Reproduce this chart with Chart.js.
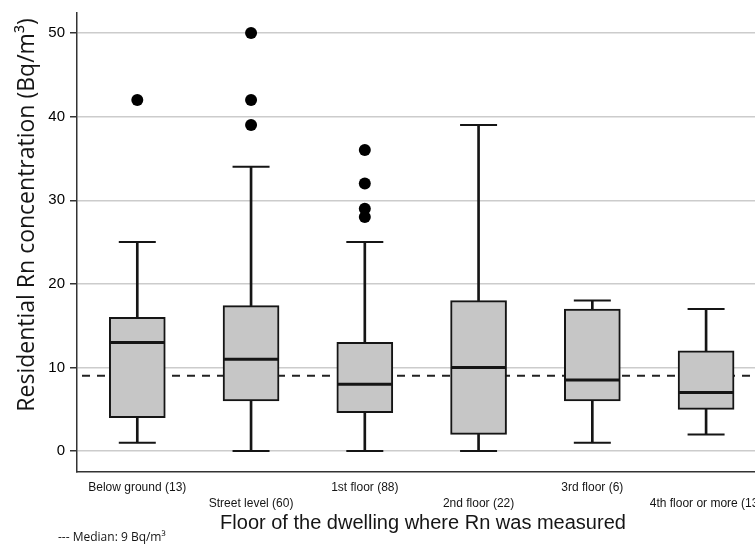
<!DOCTYPE html>
<html>
<head>
<meta charset="utf-8">
<title>Residential Rn concentration by floor</title>
<script src="https://cdn.jsdelivr.net/npm/chart.js@4/dist/chart.umd.min.js"></script>
<style>
  html, body { margin: 0; padding: 0; background: #fff; }
  #wrap { width: 755px; height: 552px; }
</style>
</head>
<body>
<div id="wrap"><canvas id="rnChart" width="755" height="552"></canvas></div>
<script>
// Box plot values (Bq/m3)
const floors = ['Below ground (13)', 'Street level (60)', '1st floor (88)', '2nd floor (22)', '3rd floor (6)', '4th floor or more (13)'];
const whiskerLow = [1, 0, 0, 0, 1, 2];
const q1 = [4, 6, 4.6, 2, 6, 5];
const medians = [13, 11, 8, 10, 8.5, 7];
const q3 = [16, 17.4, 13, 18, 17, 12];
const whiskerHigh = [25, 34, 25, 39, 18, 17];
const outliers = [[42], [50, 42, 39], [36, 32, 29, 28], [], [], []];
const overallMedian = 9;
const yTicks = [0, 10, 20, 30, 40, 50];

const ink = '#151515';
const sans = "'Liberation Sans', Arial, Helvetica, sans-serif";
const open = "'Open Sans', 'Noto Sans', sans-serif";

// dashed overall median line, drawn behind the boxes
const medianLine = {
    id: 'medianLine',
    beforeDatasetsDraw(chart) {
        const {ctx, chartArea, scales} = chart;
        const y = scales.y.getPixelForValue(overallMedian);
        ctx.save();
        ctx.strokeStyle = '#222';
        ctx.lineWidth = 2;
        ctx.setLineDash([8, 7]);
        ctx.beginPath();
        ctx.moveTo(chartArea.left + 5, y);
        ctx.lineTo(chartArea.right, y);
        ctx.stroke();
        ctx.restore();
    }
};

// staggered category labels, axis titles and footnote
const labels = {
    id: 'labels',
    afterDraw(chart) {
        const {ctx, chartArea, scales} = chart;
        ctx.save();
        ctx.fillStyle = ink;
        ctx.textAlign = 'center';
        ctx.textBaseline = 'middle';
        ctx.font = '12px ' + sans;
        floors.forEach((label, i) => {
            const x = scales.x.getPixelForValue(i);
            ctx.fillText(label, x, chartArea.bottom + (i % 2 ? 32 : 16));
        });

        ctx.font = '20px ' + sans;
        ctx.fillText('Floor of the dwelling where Rn was measured', 423, chartArea.bottom + 51);

        ctx.font = '12px ' + open;
        ctx.textAlign = 'left';
        ctx.fillText('--- Median: ' + overallMedian + ' Bq/m\u00b3', 58, chartArea.bottom + 66);

        ctx.translate(27, 215);
        ctx.rotate(-Math.PI / 2);
        ctx.textAlign = 'center';
        ctx.font = '23px ' + open;
        ctx.fillText('Residential Rn concentration (Bq/m\u00b3)', 0, 0);
        ctx.restore();
    }
};

const idx = floors.map((_, i) => i);

const ctx = document.getElementById('rnChart').getContext('2d');
new Chart(ctx, {
    type: 'bar',
    data: {
        datasets: [
            {
                type: 'scatter',
                label: 'Outliers',
                data: outliers.flatMap((vals, i) => vals.map(v => ({x: i, y: v}))),
                pointRadius: 6,
                pointBorderWidth: 0,
                backgroundColor: '#000',
                borderColor: '#000'
            },
            {
                type: 'scatter',
                label: 'Medians',
                data: idx.map(i => ({x: i, y: medians[i]})),
                pointStyle: 'line',
                pointRadius: 27,
                borderWidth: 3,
                borderColor: ink,
                backgroundColor: ink
            },
            {
                type: 'scatter',
                label: 'Caps',
                data: idx.flatMap(i => [{x: i, y: whiskerLow[i]}, {x: i, y: whiskerHigh[i]}]),
                pointStyle: 'line',
                pointRadius: 18.5,
                borderWidth: 2,
                borderColor: ink,
                backgroundColor: ink
            },
            {
                label: 'Box',
                data: idx.map(i => ({x: i, y: [q1[i], q3[i]]})),
                barThickness: 56,
                grouped: false,
                backgroundColor: '#c6c6c6',
                borderColor: ink,
                borderWidth: 2,
                borderSkipped: false
            },
            {
                label: 'Upper whisker',
                data: idx.map(i => ({x: i, y: [q3[i], whiskerHigh[i]]})),
                barThickness: 2,
                grouped: false,
                backgroundColor: ink,
                borderWidth: 0
            },
            {
                label: 'Lower whisker',
                data: idx.map(i => ({x: i, y: [whiskerLow[i], q1[i]]})),
                barThickness: 2,
                grouped: false,
                backgroundColor: ink,
                borderWidth: 0
            }
        ]
    },
    options: {
        responsive: false,
        animation: false,
        events: [],
        layout: { autoPadding: false, padding: { top: 13, right: 0, bottom: 0, left: 0 } },
        plugins: {
            legend: { display: false },
            tooltip: { enabled: false }
        },
        scales: {
            x: {
                type: 'linear',
                offset: false,
                min: -0.53,
                max: 5.43,
                grid: { display: false },
                border: { display: true, color: '#333', width: 1.5 },
                ticks: { display: false },
                afterFit(scale) {
                    scale.height = 80;
                    scale.paddingLeft = 0;
                    scale.paddingRight = 0;
                }
            },
            y: {
                min: -2.5,
                max: 52.4,
                grid: {
                    color: '#cccccc',
                    lineWidth: 1.5,
                    tickLength: 7,
                    tickColor: '#333',
                    drawTicks: true
                },
                border: { display: true, color: '#333', width: 1.5 },
                afterBuildTicks(scale) {
                    scale.ticks = yTicks.map(v => ({value: v}));
                },
                ticks: {
                    padding: 5,
                    color: '#000',
                    font: { family: sans, size: 15 }
                },
                afterFit(scale) {
                    scale.width = 77;
                    scale.paddingTop = 0;
                    scale.paddingBottom = 0;
                }
            }
        }
    },
    plugins: [medianLine, labels]
});
</script>
</body>
</html>
